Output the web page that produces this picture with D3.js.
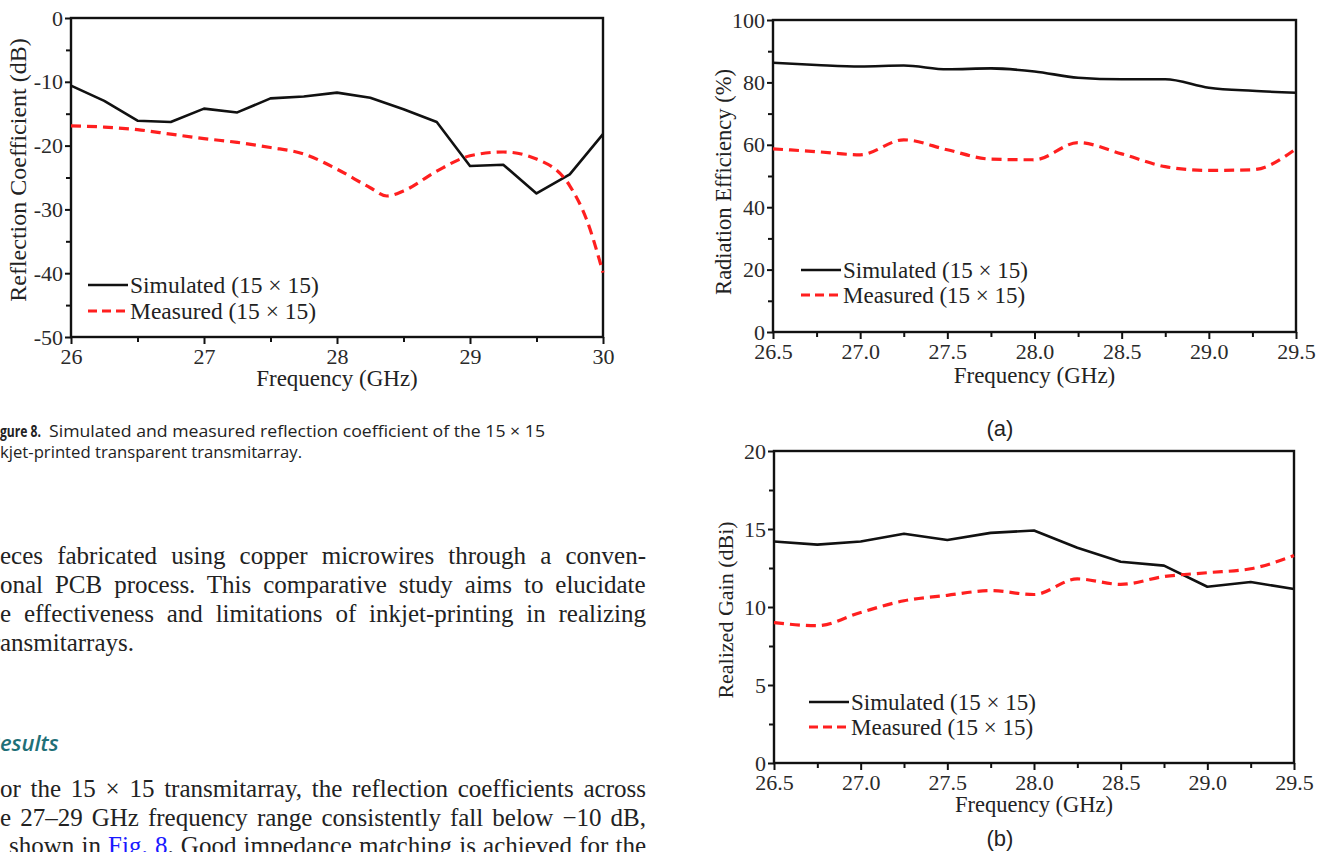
<!DOCTYPE html>
<html>
<head>
<meta charset="utf-8">
<script src="https://cdn.jsdelivr.net/npm/d3@7"></script>
<style>
  body { margin: 0; background: #fff; }
  svg { display: block; }
</style>
</head>
<body>
<div id="page"></div>
<script>
// ---- Figure 8: reflection coefficient ----
var freqR = [26, 26.25, 26.5, 26.75, 27, 27.25, 27.5, 27.75, 28, 28.25, 28.5, 28.75, 29, 29.25, 29.5, 29.75, 30];
var simR = [-10.6, -13.0, -16.1, -16.3, -14.2, -14.8, -12.6, -12.3, -11.7, -12.5, -14.3, -16.3, -23.2, -23.0, -27.5, -24.5, -18.2];
var measFreqR = [26, 26.25, 26.5, 26.75, 27, 27.25, 27.5, 27.75, 28, 28.25, 28.375, 28.5, 28.75, 29, 29.25, 29.5, 29.75, 29.875, 30];
var measR = [-16.9, -17.1, -17.5, -18.2, -18.9, -19.5, -20.3, -21.3, -23.7, -26.6, -27.9, -27.1, -24.0, -21.6, -21.0, -22.1, -26.3, -31.5, -39.9];
var xTicksR = [26, 27, 28, 29, 30];
var xMinorR = [26.5, 27.5, 28.5, 29.5];
var yTicksR = [0, -10, -20, -30, -40, -50];
var yMinorR = [-5, -15, -25, -35, -45];

// ---- Figure 9 (a) radiation efficiency, (b) realized gain ----
var freqAB = [26.5, 26.75, 27, 27.25, 27.5, 27.75, 28, 28.25, 28.5, 28.75, 29, 29.25, 29.5];
var simEff = [86.3, 85.6, 85.1, 85.4, 84.2, 84.5, 83.5, 81.5, 81.0, 81.0, 78.3, 77.3, 76.7];
var measEff = [58.7, 57.8, 56.8, 61.6, 58.4, 55.4, 55.2, 60.7, 57.1, 53.0, 51.8, 52.0, 58.7];
var simGain = [14.2, 14.0, 14.2, 14.7, 14.3, 14.75, 14.9, 13.8, 12.9, 12.65, 11.3, 11.6, 11.15];
var measGain = [9.0, 8.8, 9.65, 10.4, 10.75, 11.05, 10.8, 11.8, 11.45, 11.95, 12.2, 12.45, 13.3];
var xTicksAB = [26.5, 27, 27.5, 28, 28.5, 29, 29.5];
var xMinorAB = [26.75, 27.25, 27.75, 28.25, 28.75, 29.25];
var yTicksEff = [0, 20, 40, 60, 80, 100];
var yMinorEff = [10, 30, 50, 70, 90];
var yTicksGain = [0, 5, 10, 15, 20];
var yMinorGain = [2.5, 7.5, 12.5, 17.5];

var legendNames = ["Simulated (15 \u00d7 15)", "Measured (15 \u00d7 15)"];

var W = 1331, H = 852;
var serif = '"Liberation Serif", "Times New Roman", serif';
var sans = '"Liberation Sans", Arial, sans-serif';
var capFont = '"Open Sans", "Noto Sans", sans-serif';
var svg = d3.select("#page").append("svg").attr("width", W).attr("height", H);

function zip(xs, ys) { return xs.map(function (x, i) { return [x, ys[i]]; }); }

function drawPanel(o) {
  var x = d3.scaleLinear().domain(o.xDomain).range([o.left, o.right]);
  var y = d3.scaleLinear().domain(o.yDomain).range([o.bottom, o.top]);
  var g = svg.append("g");

  // minor ticks, no labels
  g.append("g").attr("transform", "translate(0," + o.bottom + ")")
    .call(d3.axisBottom(x).tickValues(o.xMinor).tickSize(5).tickFormat(""));
  g.append("g").attr("transform", "translate(" + o.left + ",0)")
    .call(d3.axisLeft(y).tickValues(o.yMinor).tickSize(5).tickFormat(""));

  g.append("g").attr("transform", "translate(0," + o.bottom + ")")
    .call(d3.axisBottom(x).tickValues(o.xTicks).tickSize(7).tickSizeOuter(0).tickPadding(4).tickFormat(o.xFmt));
  g.append("g").attr("transform", "translate(" + o.left + ",0)")
    .call(d3.axisLeft(y).tickValues(o.yTicks).tickSize(6).tickSizeOuter(0).tickPadding(2)
      .tickFormat(function (d) { return String(d); }));

  g.selectAll(".domain").remove();
  g.selectAll(".tick line").attr("stroke", "#111").attr("stroke-width", 2);
  g.selectAll(".tick text").attr("font-size", o.tickFont).attr("font-family", serif).attr("fill", "#2a2a2a");

  // frame
  g.append("rect").attr("x", o.left).attr("y", o.top)
    .attr("width", o.right - o.left).attr("height", o.bottom - o.top)
    .attr("fill", "none").attr("stroke", "#111").attr("stroke-width", 2.4);

  var lineLin = d3.line().x(function (d) { return x(d[0]); }).y(function (d) { return y(d[1]); });
  var lineSm = d3.line().curve(d3.curveMonotoneX).x(function (d) { return x(d[0]); }).y(function (d) { return y(d[1]); });

  g.append("path").datum(o.sim).attr("fill", "none").attr("stroke", "#111")
    .attr("stroke-width", 2.6).attr("stroke-linejoin", "round")
    .attr("d", o.simSmooth ? lineSm : lineLin);
  g.append("path").datum(o.meas).attr("fill", "none").attr("stroke", "#ff1f1f")
    .attr("stroke-width", 3.2).attr("stroke-dasharray", "10,6")
    .attr("d", lineSm);

  // legend
  var lg = g.append("g").attr("font-family", serif).attr("font-size", o.legFont).attr("fill", "#222");
  [0, 1].forEach(function (i) {
    var ly = o.legY + i * o.legGap;
    lg.append("line").attr("x1", o.legX).attr("x2", o.legX + 40).attr("y1", ly).attr("y2", ly)
      .attr("stroke", i ? "#ff1f1f" : "#111").attr("stroke-width", i ? 3.2 : 2.6)
      .attr("stroke-dasharray", i ? "9,5" : null);
    lg.append("text").attr("x", o.legX + 42).attr("y", ly).attr("dy", "0.33em").text(legendNames[i]);
  });

  // axis titles
  g.append("text").attr("x", (o.left + o.right) / 2).attr("y", o.xTitleY)
    .attr("text-anchor", "middle").attr("font-family", serif).attr("font-size", o.titleFont)
    .attr("fill", "#222").text("Frequency (GHz)");
  g.append("text").attr("transform", "translate(" + o.yTitleX + "," + o.yTitleY + ") rotate(-90)")
    .attr("text-anchor", "middle").attr("font-family", serif).attr("font-size", o.yTitleFont)
    .attr("fill", "#222").text(o.yTitle);
}

drawPanel({
  left: 71, right: 603, top: 18, bottom: 337,
  xDomain: [26, 30], yDomain: [-50, 0],
  xTicks: xTicksR, xMinor: xMinorR, yTicks: yTicksR, yMinor: yMinorR,
  xFmt: function (d) { return String(d); },
  sim: zip(freqR, simR), meas: zip(measFreqR, measR), simSmooth: false,
  tickFont: 22, legFont: 23.5, titleFont: 23, yTitleFont: 24,
  legX: 88, legY: 285, legGap: 26,
  xTitleY: 386, yTitleX: 26, yTitleY: 170, yTitle: "Reflection Coefficient (dB)"
});

drawPanel({
  left: 773, right: 1296, top: 20, bottom: 332,
  xDomain: [26.5, 29.5], yDomain: [0, 100],
  xTicks: xTicksAB, xMinor: xMinorAB, yTicks: yTicksEff, yMinor: yMinorEff,
  xFmt: d3.format(".1f"),
  sim: zip(freqAB, simEff), meas: zip(freqAB, measEff), simSmooth: true,
  tickFont: 22, legFont: 23, titleFont: 23, yTitleFont: 22.5,
  legX: 801, legY: 270, legGap: 25,
  xTitleY: 383, yTitleX: 731, yTitleY: 182, yTitle: "Radiation Efficiency (%)"
});

drawPanel({
  left: 774, right: 1294, top: 451, bottom: 763,
  xDomain: [26.5, 29.5], yDomain: [0, 20],
  xTicks: xTicksAB, xMinor: xMinorAB, yTicks: yTicksGain, yMinor: yMinorGain,
  xFmt: d3.format(".1f"),
  sim: zip(freqAB, simGain), meas: zip(freqAB, measGain), simSmooth: false,
  tickFont: 22, legFont: 23, titleFont: 22.5, yTitleFont: 22,
  legX: 809, legY: 702, legGap: 25,
  xTitleY: 812, yTitleX: 733, yTitleY: 610, yTitle: "Realized Gain (dBi)"
});

// sub-figure labels
svg.append("text").attr("x", 1000).attr("y", 436).attr("text-anchor", "middle")
  .attr("font-family", sans).attr("font-size", 22).attr("fill", "#222").text("(a)");
svg.append("text").attr("x", 1000).attr("y", 846).attr("text-anchor", "middle")
  .attr("font-family", sans).attr("font-size", 22).attr("fill", "#222").text("(b)");

// ---- page text around the figure, cut at the left edge ----
function measure(str, family, size, style, weight) {
  // nbsp keeps trailing spaces from being collapsed away
  var t = svg.append("text").attr("font-family", family).attr("font-size", size)
    .attr("font-style", style || "normal").attr("font-weight", weight || "normal")
    .text(str.replace(/ /g, "\u00a0"));
  var w = t.node().getComputedTextLength();
  t.remove();
  return w;
}

// caption lines: squeeze so the visible part spans [visStart, visEnd]
function capLine(str, cut, visStart, visEnd, y, weight) {
  var w = measure(str, capFont, 16, "normal", weight), p = measure(cut, capFont, 16, "normal", weight);
  var k = (visEnd - visStart) / (w - p);
  svg.append("text").attr("x", visStart - p * k).attr("y", y).attr("font-family", capFont)
    .attr("font-size", 16).attr("font-weight", weight || "normal").attr("fill", "#222")
    .attr("textLength", w * k).attr("lengthAdjust", "spacingAndGlyphs").text(str);
}
capLine("Figure 8.", "Fi", 0, 41, 437, "bold");
capLine("Simulated and measured reflection coefficient of the 15 \u00d7 15", "", 49, 545, 437);
capLine("inkjet-printed transparent transmitarray.", "in", 0, 302, 458);

// body text, justified by word spacing to the column edge
var bodySize = 25, colRight = 646;
var bodyLines = [
  { t: "pieces fabricated using copper microwires through a conven-", cut: "pi", vis: 0, y: 564, just: true },
  { t: "tional PCB process. This comparative study aims to elucidate", cut: "ti", vis: 0, y: 593, just: true },
  { t: "the effectiveness and limitations of inkjet-printing in realizing", cut: "th", vis: 0, y: 622, just: true },
  { t: "transmitarrays.", cut: "tr", vis: 0, y: 651, just: false },
  { t: "For the 15 \u00d7 15 transmitarray, the reflection coefficients across", cut: "F", vis: 0, y: 797, just: true },
  { t: "the 27\u201329 GHz frequency range consistently fall below \u221210 dB,", cut: "th", vis: 0, y: 826, just: true },
  { parts: ["shown in ", "Fig. 8", ". Good impedance matching is achieved for the"], cut: "", vis: 9, y: 854, just: true }
];
bodyLines.forEach(function (l) {
  var full = l.parts ? l.parts.join("") : l.t;
  var x0 = l.vis - (l.cut ? measure(l.cut, serif, bodySize) : 0), ws = 0;
  if (l.just) {
    var w = measure(full, serif, bodySize);
    ws = (colRight - x0 - w) / (full.split(" ").length - 1);
  }
  var t = svg.append("text").attr("x", x0).attr("y", l.y).attr("font-family", serif)
    .attr("font-size", bodySize).attr("fill", "#222").attr("word-spacing", ws);
  if (l.parts) {
    l.parts.forEach(function (s, i) {
      t.append("tspan").attr("fill", i === 1 ? "#1a1aff" : null).text(s);
    });
  } else {
    t.text(full);
  }
});

// section heading
var hx = -measure("R", capFont, 22, "italic", 600);
svg.append("text").attr("x", hx).attr("y", 751).attr("font-family", capFont)
  .attr("font-size", 22).attr("font-style", "italic").attr("font-weight", 600)
  .attr("fill", "#1f7078").text("Results");
</script>
</body>
</html>
